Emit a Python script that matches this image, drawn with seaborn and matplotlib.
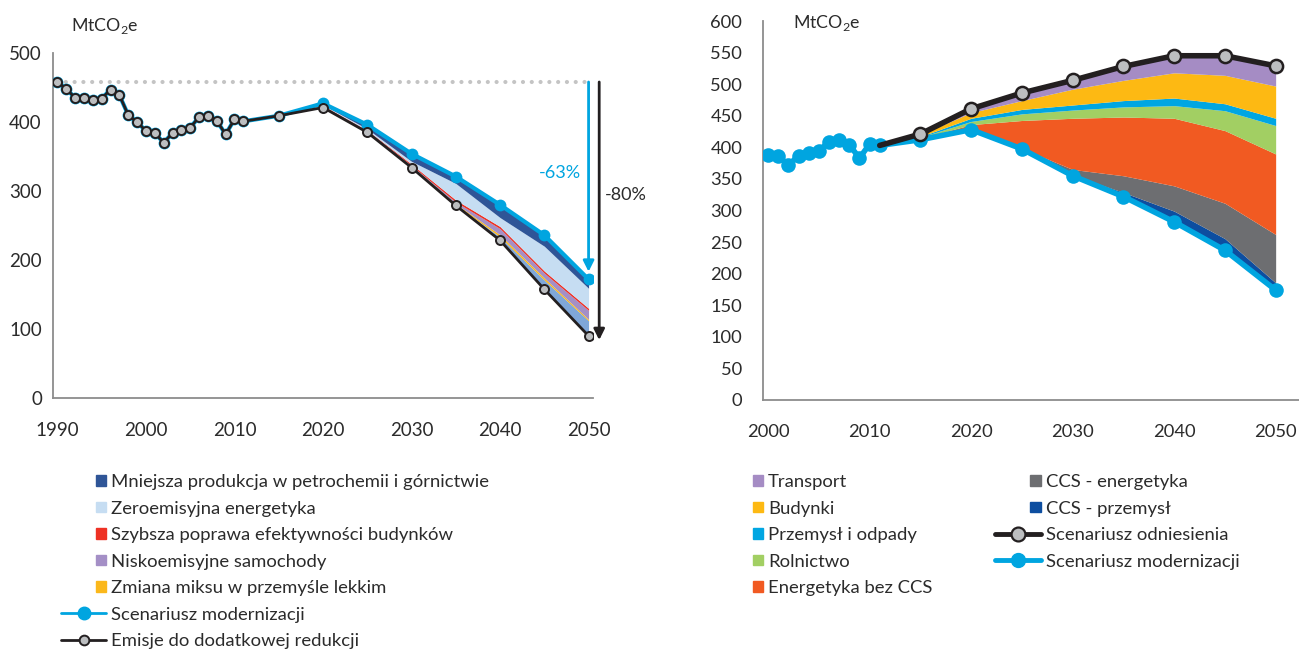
import numpy as np
import pandas as pd
import matplotlib
matplotlib.use("Agg")
import matplotlib.pyplot as plt
import matplotlib.patches as mpatches
from matplotlib.lines import Line2D
from matplotlib.legend_handler import HandlerPatch
import seaborn as sns

# ---------------- data: left panel ----------------
hist_years = [1990, 1991, 1992, 1993, 1994, 1995, 1996, 1997, 1998, 1999, 2000,
              2001, 2002, 2003, 2004, 2005, 2006, 2007, 2008, 2009, 2010, 2011, 2015]
hist_vals = [458, 448, 435, 435, 432, 434, 447, 439, 410, 400, 387,
             384, 370, 384, 388, 392, 407, 409, 402, 382, 404, 401, 409]

proj_years = [2020, 2025, 2030, 2035, 2040, 2045, 2050]
emisje_ref = [421, 385, 334, 279, 228.5, 157.5, 90]      # Emisje do dodatkowej redukcji
modern_left = [427, 396, 354, 321, 280, 236, 172]        # Scenariusz modernizacji

# stacked wedges between the two lines (bottom -> top)
other_layer = [1, 1, 1, 1, 5, 13.5, 22]
zmiana_miksu = [0.5, 0.5, 1, 1.5, 3, 3, 2]
samochody = [0.5, 0.5, 1, 2.5, 9, 7, 13]
budynki_eff = [1, 1, 2, 3, 3, 3, 3]
zeroemisyjna = [1, 2, 4, 24, 13, 36, 29]
mniejsza_prod = [2, 6, 11, 10, 18.5, 17, 13]

left_labels = ["Mniejsza produkcja w petrochemii i górnictwie",
               "Zeroemisyjna energetyka",
               "Szybsza poprawa efektywności budynków",
               "Niskoemisyjne samochody",
               "Zmiana miksu w przemyśle lekkim",
               "Scenariusz modernizacji",
               "Emisje do dodatkowej redukcji"]

# ---------------- data: right panel ----------------
r_hist_years = [2000, 2001, 2002, 2003, 2004, 2005, 2006, 2007, 2008, 2009, 2010, 2011]
r_hist_vals = [388, 386, 372.5, 386, 391, 394, 409, 412, 404, 383, 405, 403]

r_years = [2015, 2020, 2025, 2030, 2035, 2040, 2045, 2050]
r_modern = [412, 428, 397.5, 355, 322, 282, 237, 174]
r_reference = [421, 461, 486, 506, 528, 545, 545, 529]

ccs_przemysl = [0, 0, 0, 1, 6.6, 17, 18.5, 11.5]
ccs_energetyka = [0, 0, 1, 9, 26.4, 40, 56, 76.5]
energetyka_bez = [2, 8, 44, 81, 93, 107, 115, 127.5]
rolnictwo = [2, 5, 10.5, 13, 16, 20, 31.5, 45]
przemysl = [1, 5, 7, 8, 10, 12, 11, 11.5]
budynki = [3, 9, 14, 25, 32, 40, 45, 51]
transport = [1, 6, 12, 14, 22, 27, 31, 32]

right_labels = ["Transport", "Budynki", "Przemysł i odpady", "Rolnictwo",
                "Energetyka bez CCS", "CCS - energetyka", "CCS - przemysł",
                "Scenariusz odniesienia", "Scenariusz modernizacji"]

# ---------------- colours ----------------
BLUE = "#00a5e0"
BLACK = "#231f20"
GREY_M = "#bcbec0"
TXT = "#2b2b2b"
SPINE = "#8c8c8c"

c_mniejsza = "#2f5597"
c_zero = "#c6ddf2"
c_szybsza = "#ee3124"
c_samoch = "#a48fc6"
c_zmiana = "#fbb81b"
c_other = "#7fa7d9"

c_transport = "#a58cc4"
c_budynki = "#fdb913"
c_przem = "#00a6e2"
c_roln = "#a2cf63"
c_energ = "#f15a22"
c_ccs_en = "#6d6e71"
c_ccs_ind = "#0d4ea0"

sns.set_theme(style="white")
plt.rcParams["font.family"] = ["Lato", "DejaVu Sans"]
plt.rcParams["mathtext.fontset"] = "custom"
plt.rcParams["mathtext.rm"] = "Lato"

W, H = 1299, 652
fig = plt.figure(figsize=(W / 100, H / 100), dpi=100)
LEG_FS = 13.3


def px_axes(x0, y0, x1, y1):
    return fig.add_axes([x0 / W, 1 - y1 / H, (x1 - x0) / W, (y1 - y0) / H])


def style_axes(ax, size=13.5):
    for s in ["top", "right"]:
        ax.spines[s].set_visible(False)
    for s in ["left", "bottom"]:
        ax.spines[s].set_color(SPINE)
        ax.spines[s].set_linewidth(1.3)
    ax.tick_params(axis="both", length=0, labelsize=size, colors=TXT)
    ax.tick_params(axis="y", pad=8)
    ax.tick_params(axis="x", pad=17)
    ax.set_xlabel("")
    ax.set_ylabel("")


def right_square(legend, orig_handle, xdescent, ydescent, width, height, fontsize):
    s = height * 0.8
    return mpatches.Rectangle((-xdescent + width - s, -ydescent + (height - s) / 2), s, s)


# ================= left panel =================
ax1 = px_axes(53, 53, 593, 398)
ax1.stackplot(proj_years, emisje_ref, other_layer, zmiana_miksu, samochody,
              budynki_eff, zeroemisyjna, mniejsza_prod,
              colors=["none", c_other, c_zmiana, c_samoch, c_szybsza, c_zero, c_mniejsza],
              linewidth=0, zorder=2)

ax1.plot([1990, 2050], [458, 458], ls=(0, (0.01, 2.1)), dash_capstyle="round",
         lw=3, color="#c4c4c4", zorder=1)

sns.lineplot(x=hist_years + proj_years, y=hist_vals + modern_left, ax=ax1,
             color=BLUE, lw=3, marker="o", markersize=8.5,
             markerfacecolor=BLUE, markeredgecolor=BLUE, markeredgewidth=0,
             zorder=3, legend=False)
sns.lineplot(x=hist_years + proj_years, y=hist_vals + emisje_ref, ax=ax1,
             color=BLACK, lw=2, marker="o", markersize=6.5,
             markerfacecolor=GREY_M, markeredgecolor=BLACK, markeredgewidth=1.4,
             zorder=4, legend=False)

ax1.annotate("", xy=(2050, 183), xytext=(2050, 458),
             arrowprops=dict(arrowstyle="-|>", color=BLUE, lw=2, mutation_scale=16,
                             shrinkA=0, shrinkB=0), zorder=5)
ax1.annotate("", xy=(2051.2, 84), xytext=(2051.2, 458), annotation_clip=False,
             arrowprops=dict(arrowstyle="-|>", color=BLACK, lw=2, mutation_scale=16,
                             shrinkA=0, shrinkB=0), zorder=5)
ax1.text(2049.2, 326, "-63%", color=BLUE, fontsize=13, ha="right", va="center")
ax1.text(2051.8, 294, "-80%", color=TXT, fontsize=13, ha="left", va="center",
         clip_on=False)

ax1.set_xlim(1989.5, 2050.5)
ax1.set_ylim(0, 500)
ax1.set_xticks(range(1990, 2051, 10))
ax1.set_yticks(range(0, 501, 100))
style_axes(ax1)
fig.text(71 / W, 1 - 26 / H, "MtCO$_\\mathregular{2}$e", fontsize=12.8, color=TXT,
         ha="left", va="center")

left_handles = [mpatches.Patch(color=c_mniejsza, label=left_labels[0]),
                mpatches.Patch(color=c_zero, label=left_labels[1]),
                mpatches.Patch(color=c_szybsza, label=left_labels[2]),
                mpatches.Patch(color=c_samoch, label=left_labels[3]),
                mpatches.Patch(color=c_zmiana, label=left_labels[4]),
                Line2D([], [], color=BLUE, lw=2, marker="o", ms=9, mfc=BLUE, mec=BLUE,
                       label=left_labels[5]),
                Line2D([], [], color=BLACK, lw=2, marker="o", ms=7, mfc=GREY_M, mec=BLACK,
                       mew=1.4, label=left_labels[6])]
fig.legend(handles=left_handles, loc="upper left", bbox_to_anchor=(61 / W, 1 - 474 / H),
           frameon=False, fontsize=LEG_FS, handlelength=2.45, handletextpad=0.27,
           labelspacing=0.57, borderpad=0, borderaxespad=0, labelcolor=TXT,
           handler_map={mpatches.Patch: HandlerPatch(patch_func=right_square)})

# ================= right panel =================
ax2 = px_axes(763, 21, 1299, 400)
ax2.stackplot(r_years, r_modern, ccs_przemysl, ccs_energetyka, energetyka_bez,
              rolnictwo, przemysl, budynki, transport,
              colors=["none", c_ccs_ind, c_ccs_en, c_energ, c_roln, c_przem,
                      c_budynki, c_transport],
              linewidth=0, zorder=2)

sns.lineplot(x=[2011] + r_years, y=[r_hist_vals[-1]] + r_reference, ax=ax2,
             color=BLACK, lw=4, marker="o", markersize=9.5, markevery=list(range(1, 9)),
             markerfacecolor=GREY_M, markeredgecolor=BLACK, markeredgewidth=1.8,
             zorder=4, legend=False)
sns.lineplot(x=r_hist_years + r_years, y=r_hist_vals + r_modern, ax=ax2,
             color=BLUE, lw=4, marker="o", markersize=10.5,
             markerfacecolor=BLUE, markeredgecolor=BLUE, markeredgewidth=0,
             zorder=3, legend=False)

ax2.set_xlim(1999.5, 2052.3)
ax2.set_ylim(0, 600)
ax2.set_xticks(range(2000, 2051, 10))
ax2.set_yticks(range(0, 601, 50))
style_axes(ax2, size=13.2)
ax2.tick_params(axis="y", pad=15)
fig.text(793 / W, 1 - 23 / H, "MtCO$_\\mathregular{2}$e", fontsize=12.8, color=TXT,
         ha="left", va="center")

right_handles = [mpatches.Patch(color=c_transport, label=right_labels[0]),
                 mpatches.Patch(color=c_budynki, label=right_labels[1]),
                 mpatches.Patch(color=c_przem, label=right_labels[2]),
                 mpatches.Patch(color=c_roln, label=right_labels[3]),
                 mpatches.Patch(color=c_energ, label=right_labels[4]),
                 mpatches.Patch(color=c_ccs_en, label=right_labels[5]),
                 mpatches.Patch(color=c_ccs_ind, label=right_labels[6]),
                 Line2D([], [], color=BLACK, lw=3.5, marker="o", ms=10, mfc=GREY_M,
                        mec=BLACK, mew=1.6, label=right_labels[7]),
                 Line2D([], [], color=BLUE, lw=3.5, marker="o", ms=10, mfc=BLUE, mec=BLUE,
                        label=right_labels[8])]
fig.legend(handles=right_handles, loc="upper left", bbox_to_anchor=(718 / W, 1 - 474 / H),
           ncol=2, frameon=False, fontsize=LEG_FS, handlelength=2.45, handletextpad=0.27,
           labelspacing=0.57, columnspacing=3.4, borderpad=0, borderaxespad=0,
           labelcolor=TXT,
           handler_map={mpatches.Patch: HandlerPatch(patch_func=right_square)})

fig.savefig("out.png", dpi=100)
